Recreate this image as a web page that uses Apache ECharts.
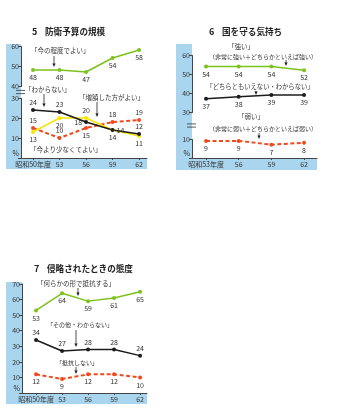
<!DOCTYPE html>
<html>
<head>
<meta charset="utf-8">
<script src="https://cdn.jsdelivr.net/npm/echarts@6/dist/echarts.min.js"></script>
<style>
  html, body { margin: 0; padding: 0; background: #fff; }
  #chart { width: 339px; height: 419px; }
</style>
</head>
<body>
<div id="chart"></div>
<script>
// ---- 5 防衛予算の規模 ----
const years5 = [50, 53, 56, 59, 62];
const yearLabels5 = ['昭和50年度', '53', '56', '59', '62'];
const yTicks5 = [0, 10, 20, 30, 40, 50, 60];
const budgetKeep = [48, 48, 47, 54, 58];      // 今の程度でよい
const budgetUnknown = [24, 23, 18, 14, 12];   // わからない
const budgetIncrease = [13, 20, 20, 14, 11];  // 増額した方がよい
const budgetDecrease = [15, 10, 15, 18, 19];  // 今より少なくてよい

// ---- 6 国を守る気持ち ----
const years6 = [53, 56, 59, 62];
const yearLabels6 = ['昭和53年度', '56', '59', '62'];
const yTicks6 = [0, 10, 30, 40, 50, 60];
const spiritStrong = [54, 54, 54, 52];   // 強い
const spiritNeutral = [37, 38, 39, 39];  // どちらともいえない・わからない
const spiritWeak = [9, 9, 7, 8];         // 弱い

// ---- 7 侵略されたときの態度 ----
const years7 = [50, 53, 56, 59, 62];
const yearLabels7 = ['昭和50年度', '53', '56', '59', '62'];
const yTicks7 = [0, 10, 20, 30, 40, 50, 60, 70];
const resist = [53, 64, 59, 61, 65];        // 何らかの形で抵抗する
const otherUnknown = [34, 27, 28, 28, 24];  // その他・わからない
const noResist = [12, 9, 12, 12, 10];       // 抵抗しない

// label placement per point (layout only)
const pos5Keep = ['bottom', 'bottom', 'bottom', 'bottom', 'bottom'];
const pos5Unknown = ['top', 'top', 'left', 'right', 'top'];
const pos5Increase = ['bottom', 'bottom', 'top', 'bottom', 'bottom'];
const pos5Decrease = ['top', 'top', 'bottom', 'top', 'top'];
const posBelow4 = ['bottom', 'bottom', 'bottom', 'bottom'];
const posBelow5 = ['bottom', 'bottom', 'bottom', 'bottom', 'bottom'];
const posAbove5 = ['top', 'top', 'top', 'top', 'top'];

const FONT = '"Noto Sans CJK JP", "Noto Sans", sans-serif';
const GREEN = '#7cc21c';
const BLACK = '#1c1c1c';
const YELLOW = '#f6e600';
const RED = '#ef4a1e';
const BLUE = '#a9d5ef';
const INK = '#333';

function lineSeries(axis, xs, ys, color, positions, dashed) {
  return {
    type: 'line',
    xAxisIndex: axis,
    yAxisIndex: axis,
    data: xs.map((x, i) => ({ value: [x, ys[i]], label: { position: positions[i] } })),
    symbol: 'circle',
    symbolSize: 4,
    lineStyle: { color: color, width: dashed ? 2 : 1.5, type: dashed ? [4, 2.5] : 'solid' },
    itemStyle: { color: color },
    label: {
      show: true,
      fontSize: 7,
      fontFamily: FONT,
      color: INK,
      distance: 2,
      formatter: p => p.value[1]
    },
    z: dashed ? 3 : 4,
    animation: false
  };
}

function xAxis(grid, xs, labels, min, max) {
  return {
    type: 'value', gridIndex: grid, min: min, max: max,
    axisLine: { show: true, lineStyle: { color: '#444', width: 1 } },
    axisTick: { show: true, length: 2, customValues: xs, lineStyle: { color: '#444' } },
    axisLabel: {
      customValues: xs, fontSize: 7, fontFamily: FONT, color: INK, margin: 3,
      formatter: v => labels[xs.indexOf(v)]
    },
    splitLine: { show: false }
  };
}

function yAxis(grid, ticks, max, breaks) {
  const ax = {
    type: 'value', gridIndex: grid, min: 0, max: max,
    axisLine: { show: true, lineStyle: { color: '#444', width: 1 } },
    axisTick: { show: true, length: 3, customValues: ticks, lineStyle: { color: '#444' } },
    axisLabel: {
      customValues: ticks, fontSize: 7, fontFamily: FONT, color: INK, margin: 2,
      formatter: v => (v === 0 ? '{pct|%}' : String(v)),
      rich: { pct: { fontSize: 7, fontFamily: FONT, color: INK, padding: [0, 0, 9, 0] } }
    },
    splitLine: { show: false }
  };
  if (breaks) {
    ax.breaks = breaks;
    ax.breakArea = { show: false, itemStyle: { opacity: 0, borderWidth: 0 } };
  }
  return ax;
}

const chart = echarts.init(document.getElementById('chart'), null, { renderer: 'canvas' });

const option = {
  backgroundColor: '#fff',
  animation: false,
  grid: [
    { left: 21, top: 46, width: 126, height: 112 },
    { left: 192, top: 55, width: 125, height: 103 },
    { left: 22, top: 284, width: 125, height: 109 }
  ],
  xAxis: [
    xAxis(0, years5, yearLabels5, 48.64, 62.9),
    xAxis(1, years6, yearLabels6, 51.71, 63.19),
    xAxis(2, years7, yearLabels7, 48.38, 62.8)
  ],
  yAxis: [
    yAxis(0, yTicks5, 60, [{ start: 30, end: 40, gap: 6 }]),
    yAxis(1, yTicks6, 60, [{ start: 10, end: 30, gap: 14.2 }]),
    yAxis(2, yTicks7, 70, null)
  ],
  series: [
    lineSeries(0, years5, budgetKeep, GREEN, pos5Keep, false),
    lineSeries(0, years5, budgetIncrease, YELLOW, pos5Increase, false),
    lineSeries(0, years5, budgetUnknown, BLACK, pos5Unknown, false),
    lineSeries(0, years5, budgetDecrease, RED, pos5Decrease, true),
    lineSeries(1, years6, spiritStrong, GREEN, posBelow4, false),
    lineSeries(1, years6, spiritNeutral, BLACK, posBelow4, false),
    lineSeries(1, years6, spiritWeak, RED, posBelow4, true),
    lineSeries(2, years7, resist, GREEN, posBelow5, false),
    lineSeries(2, years7, otherUnknown, BLACK, posAbove5, false),
    lineSeries(2, years7, noResist, RED, posBelow5, true)
  ]
};
chart.setOption(option);

// ---- decorations: panels, titles, callouts, break marks ----
function rect(x, y, w, h, color) {
  return { type: 'rect', shape: { x: x, y: y, width: w, height: h }, style: { fill: color }, z: -100, silent: true };
}
function text(str, x, y, size, opts) {
  return {
    type: 'text', silent: true, z: 10,
    style: Object.assign({
      text: str, x: x, y: y, fill: opts && opts.bold ? '#222' : INK,
      font: (opts && opts.bold ? 'bold ' : '') + size + 'px ' + FONT,
      textAlign: 'left', textVerticalAlign: 'middle'
    }, opts && opts.align ? { textAlign: opts.align } : {})
  };
}
function title(num, str, x, y) {
  return [
    text(num, x, y, 9, { bold: true }),
    text(str, x + 13, y, 8.6, { bold: true })
  ];
}
function arrow(x, y1, y2) {
  return [
    { type: 'line', silent: true, z: 10, shape: { x1: x, y1: y1, x2: x, y2: y2 - 2 }, style: { stroke: '#222', lineWidth: 0.8 } },
    { type: 'polygon', silent: true, z: 10, shape: { points: [[x - 1.6, y2 - 3.5], [x + 1.6, y2 - 3.5], [x, y2]] }, style: { fill: '#222' } }
  ];
}
function breakMark(grid, lo, hi, axisX) {
  const yLo = chart.convertToPixel({ gridIndex: grid }, [0, lo])[1];
  const yHi = chart.convertToPixel({ gridIndex: grid }, [0, hi])[1];
  const ym = (yLo + yHi) / 2;
  return [
    { type: 'line', silent: true, z: 10, shape: { x1: axisX - 5, y1: ym - 1.6, x2: axisX + 4, y2: ym - 1.6 }, style: { stroke: '#333', lineWidth: 0.8 } },
    { type: 'line', silent: true, z: 10, shape: { x1: axisX - 5, y1: ym + 1.6, x2: axisX + 4, y2: ym + 1.6 }, style: { stroke: '#333', lineWidth: 0.8 } }
  ];
}

const ax5 = chart.convertToPixel({ gridIndex: 0 }, [48.64, 0])[0];
const ax6 = chart.convertToPixel({ gridIndex: 1 }, [51.71, 0])[0];

const elements = [
  // panels
  rect(6, 44, 15, 125, BLUE), rect(6, 158, 141, 11, BLUE),
  rect(176, 44, 16, 126, BLUE), rect(176, 158, 141, 12, BLUE),
  rect(6, 282, 16, 122, BLUE), rect(6, 393, 141, 11, BLUE),
  // chart 5 callouts
  text('「今の程度でよい」', 31, 51, 6.5),
  text('「わからない」', 25, 90, 6.5),
  text('「増額した方がよい」', 79, 98, 6.5),
  text('「今より少なくてよい」', 30, 150, 6.5),
  // chart 6 callouts
  text('「強い」', 241, 47, 6.5, { align: 'center' }),
  text('（非常に強い＋どちらかといえば強い）', 263, 57, 6, { align: 'center' }),
  text('「どちらともいえない・わからない」', 260, 87, 6.3, { align: 'center' }),
  text('「弱い」', 251, 117, 6.5, { align: 'center' }),
  text('（非常に弱い＋どちらかといえば弱い）', 263, 129, 6, { align: 'center' }),
  // chart 7 callouts
  text('「何らかの形で抵抗する」', 37, 284, 6.5),
  text('「その他・わからない」', 47, 325, 6),
  text('「抵抗しない」', 56, 363, 6)
].concat(
  title('5', '防衛予算の規模', 32, 32),
  title('6', '国を守る気持ち', 209, 32),
  title('7', '侵略されたときの態度', 34, 269),
  arrow(54, 56, 67), arrow(44, 94, 107), arrow(97, 102, 117),
  arrow(286, 60, 66), arrow(256, 91, 95), arrow(259, 133, 139),
  arrow(78, 288, 296), arrow(76, 330, 347), arrow(76, 367, 374),
  breakMark(0, 30, 40, ax5),
  breakMark(1, 10, 30, ax6)
);

chart.setOption({ graphic: { elements: elements } });
</script>
</body>
</html>
